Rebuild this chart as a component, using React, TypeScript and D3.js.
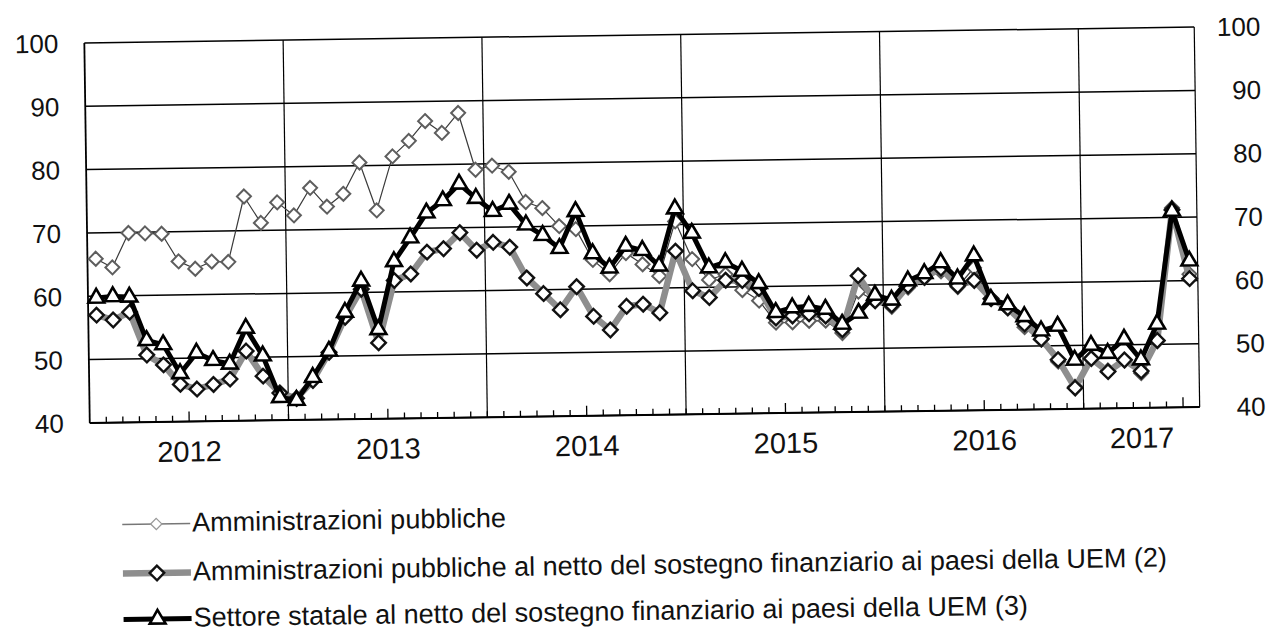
import React from 'react';
import * as d3 from 'd3';

// categories: monthly data, Jan 2012 - Jul 2017
const years = ['2012', '2013', '2014', '2015', '2016', '2017'];
const monthsPerYear = [12, 12, 12, 12, 12, 7];
const yTicks = [40, 50, 60, 70, 80, 90, 100];

// Amministrazioni pubbliche
const ammPubbliche = [
  65.9, 64.5, 69.9, 69.8, 69.7, 65.3, 64.1, 65.2, 65.1, 75.4, 71.2, 74.4,
  72.3, 76.6, 73.6, 75.6, 80.5, 72.9, 81.4, 83.8, 86.9, 85.0, 88.1, 79.1,
  79.7, 78.7, 73.9, 72.9, 70.0, 69.5, 64.6, 62.3, 65.6, 63.8, 61.9, 70.5,
  64.5, 61.2, 62.0, 59.5, 57.8, 54.3, 54.3, 54.5, 54.5, 52.5, 59.0, 57.5,
  56.5, 59.5, 61.0, 62.0, 59.5, 62.5, 57.5, 56.0, 53.0, 51.0, 47.5, 43.5,
  48.0, 46.0, 47.5, 45.5, 50.5, 71.5, 61.0,
];

// Amministrazioni pubbliche al netto del sostegno finanziario (2)
const ammPubblicheNetto = [
  57.0, 56.2, 57.4, 50.6, 49.0, 45.9, 45.1, 45.8, 46.6, 51.0, 47.0, 44.3,
  43.4, 46.2, 50.6, 56.1, 60.5, 52.0, 61.8, 62.8, 66.2, 66.7, 69.2, 66.4,
  67.6, 66.8, 61.9, 59.4, 56.8, 60.4, 55.7, 53.5, 57.2, 57.5, 56.1, 65.8,
  59.5, 58.4, 61.1, 61.0, 59.7, 55.0, 55.3, 55.6, 55.2, 53.0, 61.5, 57.5,
  56.8, 59.8, 61.1, 62.5, 59.7, 60.5, 57.6, 56.1, 53.5, 51.1, 47.8, 43.3,
  47.9, 45.8, 47.6, 45.8, 50.6, 71.2, 60.3,
];

// Settore statale al netto del sostegno finanziario (3)
const settoreStataleNetto = [
  59.7, 59.9, 59.8, 52.9, 52.2, 47.6, 50.8, 49.6, 49.0, 54.6, 50.2, 43.6,
  43.1, 46.7, 50.8, 56.9, 61.8, 54.1, 64.8, 68.5, 72.4, 74.3, 76.9, 74.6,
  72.5, 73.6, 70.3, 68.6, 66.5, 72.3, 65.6, 63.3, 66.7, 66.0, 63.5, 72.5,
  68.6, 63.1, 63.9, 62.5, 60.5, 55.9, 56.6, 56.8, 56.3, 53.9, 55.6, 58.4,
  57.6, 60.6, 61.7, 63.4, 60.8, 64.4, 57.5, 56.6, 54.7, 52.4, 53.1, 47.7,
  50.0, 48.7, 50.9, 47.6, 53.2, 71.0, 63.1,
];

const legendLabels = [
  'Amministrazioni pubbliche',
  'Amministrazioni pubbliche al netto del sostegno finanziario ai paesi della UEM (2)',
  'Settore statale al netto del sostegno finanziario ai paesi della UEM (3)',
];

const FONT = '"Liberation Sans", Arial, sans-serif';

export default function App() {
  const width = 1272;
  const height = 632;
  const margin = { left: 87, right: 1197, top: 35, bottom: 415 };

  const nMonths = d3.sum(monthsPerYear);
  const x = d3.scaleLinear().domain([0, nMonths]).range([margin.left, margin.right]);
  const y = d3.scaleLinear().domain([40, 100]).range([margin.bottom, margin.top]);
  const px = (i: number) => x(i + 0.5);

  const bounds = Array.from(d3.cumsum([0, ...monthsPerYear])); // year boundaries
  const monthTicks = d3.range(1, nMonths);

  const line = d3.line<number>().x((d, i) => px(i)).y(d => y(d));

  const series = [
    {
      name: legendLabels[0], values: ammPubbliche,
      lineColor: '#3a3a3a', lineWidth: 1.2,
      symbol: d3.symbolDiamond2, size: 125, markStroke: '#5e5e5e', markWidth: 2,
    },
    {
      name: legendLabels[1], values: ammPubblicheNetto,
      lineColor: '#8e8e8e', lineWidth: 6.5,
      symbol: d3.symbolDiamond2, size: 135, markStroke: '#111', markWidth: 2.4,
    },
    {
      name: legendLabels[2], values: settoreStataleNetto,
      lineColor: '#000', lineWidth: 5,
      symbol: d3.symbolTriangle, size: 108, markStroke: '#000', markWidth: 2.6,
    },
  ];

  const legendRows = [525, 574, 620];

  return (
    <svg width={width} height={height} style={{ position: 'absolute', left: 0, top: 0, background: '#fff' }}>
      <rect width={width} height={height} fill="#fff" />
      <g transform="rotate(-0.82 642 225)" fontFamily={FONT}>
        {/* horizontal grid */}
        {yTicks.map(t => (
          <line key={'h' + t} x1={margin.left} x2={margin.right} y1={y(t)} y2={y(t)}
            stroke="#000" strokeWidth={1.5} />
        ))}
        {/* vertical grid at year boundaries + frame */}
        {bounds.map(b => (
          <line key={'v' + b} x1={x(b)} x2={x(b)} y1={margin.top} y2={margin.bottom}
            stroke="#000" strokeWidth={b === 0 ? 1.8 : 1.2} />
        ))}
        {/* monthly tick marks */}
        {monthTicks.map(m => (
          <line key={'t' + m} x1={x(m)} x2={x(m)} y1={margin.bottom}
            y2={margin.bottom - (m % 12 === 6 ? 10 : 6)} stroke="#000" strokeWidth={1.3} />
        ))}
        <line x1={margin.left} x2={margin.right} y1={margin.bottom} y2={margin.bottom} stroke="#000" strokeWidth={2} />

        {/* left and right axis labels */}
        {yTicks.map(t => (
          <text key={'l' + t} x={61} y={y(t)} dy="0.36em" textAnchor="end" fontSize={26} fill="#111">{t}</text>
        ))}
        {yTicks.map(t => (
          <text key={'r' + t} x={1263} y={y(t)} dy="0.36em" textAnchor="end" fontSize={26} fill="#111">{t}</text>
        ))}

        {/* year labels */}
        {years.map((yr, k) => (
          <text key={yr} x={x((bounds[k] + bounds[k + 1]) / 2)} y={455} textAnchor="middle" fontSize={29} fill="#111">{yr}</text>
        ))}

        {/* series */}
        {series.map(s => (
          <g key={s.name}>
            <path d={line(s.values) || ''} fill="none" stroke={s.lineColor} strokeWidth={s.lineWidth} strokeLinejoin="round" />
            {s.values.map((v, i) => (
              <path key={i} d={d3.symbol(s.symbol, s.size)() || ''}
                transform={`translate(${px(i)},${y(v)})`}
                fill="#fff" stroke={s.markStroke} strokeWidth={s.markWidth} />
            ))}
          </g>
        ))}

        {/* legend */}
        {series.map((s, k) => {
          const cy = legendRows[k] - 8;
          return (
            <g key={'lg' + k}>
              <line x1={118} x2={186} y1={cy} y2={cy} stroke={k === 0 ? '#777' : s.lineColor}
                strokeWidth={k === 0 ? 1.5 : s.lineWidth} />
              <path d={d3.symbol(s.symbol, k === 0 ? 80 : s.size)() || ''} transform={`translate(152,${cy})`}
                fill="#fff" stroke={k === 0 ? '#999' : s.markStroke} strokeWidth={k === 0 ? 1.3 : s.markWidth} />
              <text x={188} y={legendRows[k]} fontSize={27} fill="#111">{s.name}</text>
            </g>
          );
        })}
      </g>
    </svg>
  );
}
